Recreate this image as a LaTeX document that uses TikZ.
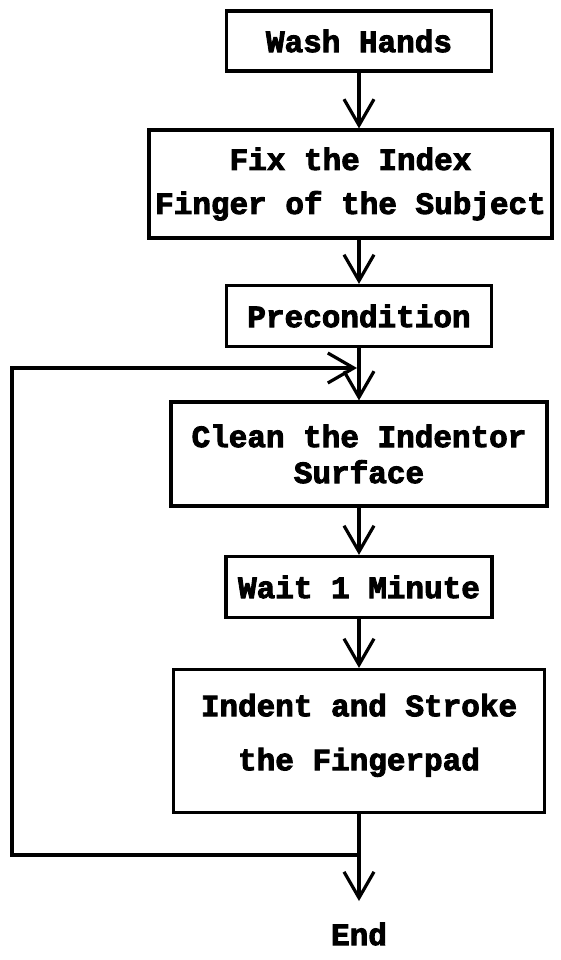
\documentclass[tikz,border=0pt]{standalone}
\usepackage{fontspec}
\usepackage{tikz}
\usetikzlibrary{shapes,arrows,arrows.meta,positioning}
\newfontfamily\boxfont{Liberation Mono Bold}[FakeBold=3]
\tikzstyle{stepbox} = [draw, line width=3.2pt, rectangle, align=center, inner sep=0pt, font=\boxfont\fontsize{31}{38}\selectfont]
\tikzstyle{flow} = [line width=3.2pt, -{Straight Barb[length=26pt,width=30pt,line width=3.2pt]}]

\begin{document}
\begin{tikzpicture}[x=1pt,y=-1pt]
\useasboundingbox (0,0) rectangle (560,960);
% the steps, top to bottom
\node[stepbox, minimum width=265pt, minimum height=60pt] (wash) at (359,41) {Wash Hands};
\node[stepbox, minimum width=403pt, minimum height=108pt] (fix) at (350.5,184) {Fix the Index\\[6pt]Finger of the Subject};
\node[stepbox, minimum width=265pt, minimum height=61pt] (pre) at (359,316) {Precondition};
\node[stepbox, minimum width=376pt, minimum height=104pt] (clean) at (359,454) {Clean the Indentor\\[-2pt]Surface};
\node[stepbox, minimum width=266pt, minimum height=61pt] (wait) at (359,587) {Wait 1 Minute};
\node[stepbox, minimum width=371pt, minimum height=143pt, text depth=18pt] (indent) at (359,741) {Indent and Stroke\\[16pt]the Fingerpad};
\node[stepbox, draw=none, inner sep=20pt] (fin) at (359,934) {End};
% loop back
\coordinate (back) at (359,855);
\coordinate (merge) at (357,368);

\draw[flow] (wash) -- (fix.north -| wash);
\draw[flow] (pre.north |- fix.south) -- (pre);
\draw[flow] (pre) -- (clean);
\draw[flow] (clean) -- (wait);
\draw[flow] (wait) -- (indent);
\draw[flow] (indent) -- (fin);
\draw[flow] (back) -- ++(-347,0) |- (merge);
\end{tikzpicture}
\end{document}
